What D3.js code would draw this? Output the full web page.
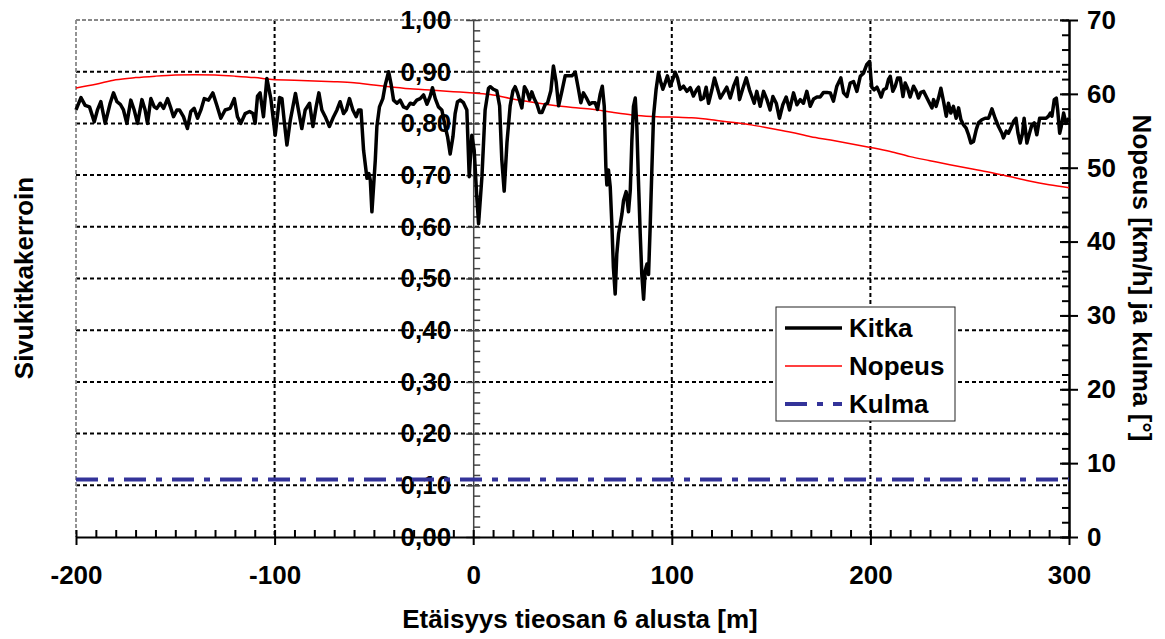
<!DOCTYPE html>
<html><head><meta charset="utf-8">
<script src="https://cdn.jsdelivr.net/npm/d3@7"></script>
<style>
body{margin:0;background:#fff}
svg{display:block}
text{font-family:"Liberation Sans",Arial,sans-serif;font-weight:bold;fill:#000}
</style></head>
<body><svg id="c" width="1165" height="639"></svg>
<script>
// ---------- DATA ----------
const xTicks = [-200, -100, 0, 100, 200, 300];
const leftTicks = [0, 0.1, 0.2, 0.3, 0.4, 0.5, 0.6, 0.7, 0.8, 0.9, 1.0];
const rightTicks = [0, 10, 20, 30, 40, 50, 60, 70];
const seriesNames = ["Kitka", "Nopeus", "Kulma"];

const kitkaDist = [-200,-197.5,-195.4,-193.2,-190.8,-189.2,-187.5,-185.3,-182.8,-181.1,-179.4,-177.7,-176.1,-174.4,-172.4,-170.7,-169.0,-166.8,-165.2,-164.0,-162.3,-160.6,-159.3,-157.6,-155.9,-153.9,-152.2,-150.9,-149.2,-147.9,-145.9,-143.9,-142.2,-140.5,-138.8,-137.1,-135.4,-133.3,-131.1,-129.1,-127.1,-124.9,-122.4,-120.3,-118.7,-117.0,-114.8,-112.6,-110.9,-109.8,-108.6,-107.3,-105.6,-103.9,-101.9,-99.7,
-97.5,-96.3,-95.2,-93.8,-92.1,-90.8,-89.5,-88.0,-86.3,-84.6,-82.4,-80.7,-79.1,-77.7,-76.2,-74.5,-72.4,-70.3,-68.6,-67.0,-65.3,-63.9,-62.3,-60.6,-58.9,-57.7,-56.5,-55.2,-53.5,-52.5,-51.8,-51.0,-49.3,-48.5,-47.2,-45.5,-44.3,-42.6,-41.4,-40.1,-38.4,-36.8,-35.1,-33.4,-31.7,-30.1,-28.4,-26.7,-25.0,-23.3,-21.7,-20.5,-19.1,-17.5,-15.8,-14.1,-12.9,-11.6,-10.2,-9.1,-7.9,-6.5,-4.9,-3.2,-2.0,-0.7,0.5,1.8,2.7,4.4,6.0,7.7,
8.6,10.2,11.9,13.3,14.4,15.6,17.0,18.6,20.0,21.1,22.3,23.7,24.5,25.8,27.0,28.4,29.5,30.7,32.1,33.4,34.6,36.3,37.4,39.1,40.4,41.8,43.0,44.7,46.3,48.0,49.7,51.4,53.0,54.2,55.5,56.9,58.6,59.8,61.4,62.6,63.9,65.0,66.0,
66.8,67.3,68.1,69.0,69.8,70.6,71.5,72.3,73.2,74.9,75.7,77.0,78.2,79.1,79.9,80.7,81.6,82.4,83.2,84.1,84.9,85.8,86.6,87.5,88.3,89.1,90.0,90.8,92.1,93.3,94.5,95.5,96.7,97.8,99.2,100.5,101.7,102.9,104.2,105.9,107.6,109.3,110.9,112.6,
113.5,114.6,116.0,117.3,118.5,120.2,121.5,122.7,124.4,126.0,127.7,129.4,131.1,132.8,134.1,135.8,137.5,139.1,140.3,141.5,142.8,144.5,146.2,147.9,149.5,150.9,152.6,154.2,155.9,157.6,159.3,161.3,163.0,164.7,166.3,168.0,169.7,171.4,173.1,174.7,176.4,178.1,179.8,181.4,183.1,185.1,186.5,188.2,189.8,191.5,193.2,194.9,196.5,198.2,199.6,
200.2,200.7,201.9,203.3,204.6,205.4,206.6,208.0,209.1,210.0,211.3,212.5,213.7,215.0,216.4,217.5,218.7,220.0,221.7,223.1,224.2,225.4,226.8,228.1,229.8,231.0,231.8,233.1,234.3,235.5,236.8,238.2,239.3,240.5,241.8,243.2,244.4,245.6,246.9,248.2,249.4,250.6,251.9,253.3,254.4,256.1,257.8,259.5,261.2,262.8,264.5,266.2,267.0,268.4,269.5,270.7,272.1,273.3,274.3,275.4,276.6,277.4,278.8,280.1,281.3,282.5,283.8,285.2,286.9,288.5,289.7,290.6,291.4,292.6,293.6,294.3,295.3,296.1,297.3,298.5,300.0];

const kitkaValues = [0.826,0.850,0.835,0.832,0.803,0.826,0.842,0.800,0.839,0.859,0.842,0.837,0.826,0.800,0.845,0.826,0.800,0.846,0.826,0.800,0.848,0.832,0.829,0.839,0.829,0.848,0.829,0.813,0.826,0.826,0.813,0.790,0.823,0.829,0.810,0.826,0.848,0.845,0.859,0.835,0.810,0.826,0.829,0.848,0.813,0.800,0.819,0.823,0.819,0.800,0.853,0.859,0.813,0.887,0.848,0.777,
0.850,0.848,0.806,0.758,0.806,0.832,0.858,0.826,0.790,0.826,0.839,0.794,0.832,0.859,0.826,0.813,0.794,0.813,0.826,0.842,0.819,0.826,0.848,0.826,0.813,0.826,0.826,0.748,0.694,0.703,0.690,0.629,0.729,0.794,0.832,0.848,0.874,0.900,0.877,0.845,0.839,0.845,0.832,0.829,0.839,0.837,0.845,0.848,0.855,0.837,0.852,0.869,0.848,0.832,0.826,0.794,0.774,0.741,0.774,0.819,0.842,0.845,0.840,0.826,0.697,0.777,0.748,0.658,0.606,0.697,0.826,0.868,
0.871,0.866,0.863,0.834,0.730,0.669,0.763,0.834,0.863,0.871,0.859,0.840,0.830,0.871,0.863,0.846,0.861,0.848,0.837,0.821,0.821,0.837,0.839,0.863,0.911,0.879,0.834,0.863,0.892,0.892,0.892,0.899,0.866,0.840,0.859,0.850,0.837,0.840,0.840,0.827,0.856,0.872,0.833,
0.716,0.681,0.710,0.677,0.606,0.521,0.470,0.547,0.586,0.625,0.651,0.668,0.629,0.671,0.768,0.833,0.849,0.794,0.690,0.586,0.508,0.460,0.515,0.528,0.508,0.599,0.716,0.814,0.866,0.898,0.879,0.866,0.879,0.892,0.872,0.885,0.899,0.888,0.866,0.872,0.862,0.869,0.853,0.866,
0.870,0.846,0.849,0.870,0.839,0.865,0.888,0.872,0.849,0.859,0.870,0.849,0.872,0.888,0.846,0.868,0.888,0.865,0.852,0.839,0.862,0.833,0.862,0.846,0.826,0.852,0.839,0.810,0.836,0.851,0.826,0.859,0.836,0.846,0.839,0.862,0.833,0.847,0.851,0.851,0.860,0.860,0.859,0.843,0.872,0.888,0.859,0.852,0.878,0.881,0.862,0.891,0.897,0.914,0.920,
0.891,0.870,0.865,0.870,0.859,0.851,0.865,0.868,0.885,0.891,0.862,0.872,0.888,0.888,0.852,0.878,0.868,0.851,0.872,0.862,0.849,0.860,0.862,0.852,0.839,0.830,0.846,0.833,0.849,0.868,0.843,0.814,0.839,0.820,0.833,0.810,0.830,0.807,0.797,0.791,0.778,0.762,0.765,0.788,0.801,0.807,0.810,0.810,0.828,0.810,0.794,0.781,0.772,0.785,0.781,0.791,0.804,0.810,0.781,0.762,0.781,0.810,0.762,0.781,0.797,0.801,0.778,0.810,0.810,0.810,0.814,0.820,0.814,0.846,0.849,0.826,0.781,0.794,0.820,0.800,0.810];

const nopeusDist = [-200,-190,-180,-170,-160,-150,-140,-130,-120,-110,-100,-90,-80,-70,-60,-50,-40,-30,-20,-10,0,10,20,30,40,50,60,70,80,90,100,110,120,130,140,150,160,170,180,190,200,210,220,230,240,250,260,270,280,290,300];
const nopeusValues = [60.8,61.3,61.9,62.2,62.4,62.55,62.6,62.55,62.4,62.2,61.9,61.85,61.75,61.65,61.5,61.2,60.9,60.65,60.5,60.3,60.1,59.85,59.3,58.85,58.45,58.15,57.9,57.5,57.15,56.95,56.85,56.75,56.5,56.15,55.8,55.3,54.8,54.2,53.75,53.25,52.75,52.2,51.5,50.95,50.4,49.9,49.4,48.8,48.2,47.7,47.3];

const kulmaDist = [-200, 300];
const kulmaValues = [7.8, 7.8];

// ---------- CHART ----------
const svg = d3.select("#c");
const L = 76, R = 1069, T = 20, B = 537;
const x = d3.scaleLinear().domain([-200, 300]).range([L, R]);
const yL = d3.scaleLinear().domain([0, 1]).range([B, T]);
const yR = d3.scaleLinear().domain([0, 70]).range([B, T]);
const FS = 26;
const fmtL = v => d3.format(".2f")(v).replace(".", ",");
const fmtX = v => String(v);

// grid
const g = svg.append("g");
g.selectAll(".hg").data(leftTicks.filter(v => v > 0 && v < 1)).join("line")
  .attr("x1", L).attr("x2", R).attr("y1", d => yL(d)).attr("y2", d => yL(d))
  .attr("stroke", "#000").attr("stroke-width", 2).attr("stroke-dasharray", "4,3");
g.selectAll(".vg").data(xTicks.filter(v => v !== 0 && v !== -200 && v !== 300)).join("line")
  .attr("x1", d => x(d)).attr("x2", d => x(d)).attr("y1", T).attr("y2", B)
  .attr("stroke", "#000").attr("stroke-width", 2).attr("stroke-dasharray", "4,3");
// gray frame (top and left)
g.append("line").attr("x1", L).attr("x2", R).attr("y1", yL(1)).attr("y2", yL(1))
  .attr("stroke", "#888").attr("stroke-width", 1.8).attr("stroke-dasharray", "4,2");
g.append("line").attr("x1", L).attr("x2", L).attr("y1", T).attr("y2", B)
  .attr("stroke", "#888").attr("stroke-width", 1.8).attr("stroke-dasharray", "4,2");

// left axis (at x=0)
const la = svg.append("g").attr("transform", `translate(${x(0)},0)`);
la.call(d3.axisRight(yL).tickValues(d3.range(0, 1.0001, 0.02)).tickSize(7).tickFormat("").tickSizeOuter(0));
la.select("path").attr("stroke", "#444").attr("stroke-width", 1.5);
la.selectAll(".tick line").attr("stroke", "#444").attr("stroke-width", 1.5);
const la2 = svg.append("g").attr("transform", `translate(${x(0)},0)`);
la2.call(d3.axisLeft(yL).tickValues(leftTicks).tickSize(7).tickPadding(15).tickFormat(fmtL).tickSizeOuter(0));
la2.select("path").remove();
la2.selectAll(".tick line").attr("stroke", "#444").attr("stroke-width", 1.5);
la2.selectAll("text").attr("font-size", FS).attr("font-family", null);

// right axis
const ra = svg.append("g").attr("transform", `translate(${R},0)`);
ra.call(d3.axisLeft(yR).tickValues(d3.range(0, 70.001, 2)).tickSize(7).tickFormat("").tickSizeOuter(0));
ra.select("path").attr("stroke", "#000").attr("stroke-width", 2.5);
ra.selectAll(".tick line").attr("stroke", "#000").attr("stroke-width", 2);
const ra2 = svg.append("g").attr("transform", `translate(${R},0)`);
ra2.call(d3.axisRight(yR).tickValues(rightTicks).tickSize(9).tickPadding(9).tickSizeOuter(0));
ra2.select("path").remove();
ra2.selectAll(".tick line").attr("stroke", "#000").attr("stroke-width", 2);
ra2.selectAll("text").attr("font-size", FS).attr("font-family", null);
const ra3 = svg.append("g").attr("transform", `translate(${R},0)`);
ra3.call(d3.axisLeft(yR).tickValues(rightTicks).tickSize(9).tickFormat("").tickSizeOuter(0));
ra3.select("path").remove();
ra3.selectAll(".tick line").attr("stroke", "#000").attr("stroke-width", 2);

// series
const lineK = d3.line().x((d, i) => x(kitkaDist[i])).y(d => yL(d));
const lineN = d3.line().x((d, i) => x(nopeusDist[i])).y(d => yR(d)).curve(d3.curveMonotoneX);
const lineKu = d3.line().x((d, i) => x(kulmaDist[i])).y(d => yR(d));
svg.append("path").datum(kulmaValues).attr("d", lineKu).attr("fill", "none")
  .attr("stroke", "#333399").attr("stroke-width", 4).attr("stroke-dasharray", "22,10,6,10");
svg.append("path").datum(nopeusValues).attr("d", lineN).attr("fill", "none")
  .attr("stroke", "#ff0000").attr("stroke-width", 1.5);
svg.append("path").datum(kitkaValues).attr("d", lineK).attr("fill", "none")
  .attr("stroke", "#000").attr("stroke-width", 3.5).attr("stroke-linejoin", "round");

// bottom axis
const ba = svg.append("g").attr("transform", `translate(0,${B})`);
ba.call(d3.axisTop(x).tickValues(d3.range(-200, 300.001, 10)).tickSize(7).tickFormat("").tickSizeOuter(0));
ba.select("path").attr("stroke", "#000").attr("stroke-width", 2);
ba.selectAll(".tick line").attr("stroke", "#000").attr("stroke-width", 2);
const ba2 = svg.append("g").attr("transform", `translate(0,${B})`);
ba2.call(d3.axisBottom(x).tickValues(xTicks).tickSize(8).tickPadding(21).tickFormat(fmtX).tickSizeOuter(0));
ba2.select("path").remove();
ba2.selectAll(".tick line").attr("stroke", "#000").attr("stroke-width", 2);
ba2.selectAll("text").attr("font-size", FS).attr("font-family", null);

// axis titles
svg.append("text").attr("x", 580).attr("y", 628).attr("text-anchor", "middle")
  .attr("font-size", FS).text("Etäisyys tieosan 6 alusta [m]");
svg.append("text").attr("transform", "translate(33,278) rotate(-90)").attr("text-anchor", "middle")
  .attr("font-size", FS).text("Sivukitkakerroin");
svg.append("text").attr("transform", "translate(1133,278) rotate(90)").attr("text-anchor", "middle")
  .attr("font-size", FS).text("Nopeus [km/h] ja kulma [°]");

// legend
const lg = svg.append("g");
lg.append("rect").attr("x", 776).attr("y", 307).attr("width", 179).attr("height", 114)
  .attr("fill", "#fff").attr("stroke", "#222").attr("stroke-width", 1);
const legStyles = [
  {c: "#000", w: 3.5, d: null},
  {c: "#ff0000", w: 1.5, d: null},
  {c: "#333399", w: 4, d: "22,10,6,10"}
];
const rowY = [328, 366, 404];
seriesNames.forEach((n, i) => {
  lg.append("line").attr("x1", 785).attr("x2", 842).attr("y1", rowY[i]).attr("y2", rowY[i])
    .attr("stroke", legStyles[i].c).attr("stroke-width", legStyles[i].w)
    .attr("stroke-dasharray", legStyles[i].d);
  lg.append("text").attr("x", 849).attr("y", rowY[i]).attr("dy", "0.36em")
    .attr("font-size", FS).text(n);
});
</script></body></html>
